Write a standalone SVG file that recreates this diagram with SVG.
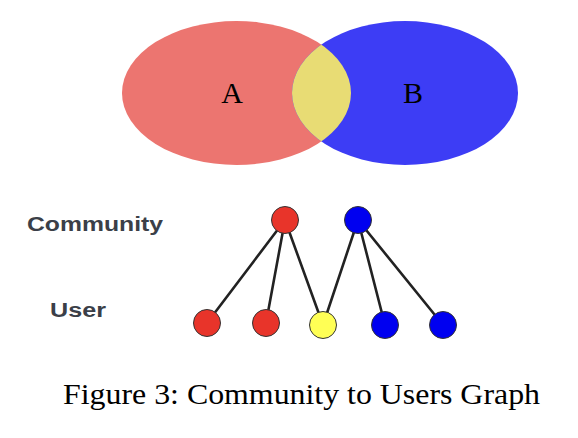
<svg xmlns="http://www.w3.org/2000/svg" width="578" height="438" viewBox="0 0 578 438">
<style>
.serif{font-family:"Liberation Serif","Times New Roman",serif;fill:#000}
.lbl{font-family:"Liberation Sans",Arial,sans-serif;font-weight:bold;font-size:20px;fill:#3b3f48}
.edge{stroke:#222;stroke-width:2.6;stroke-linecap:round}
.node{stroke:#333;stroke-width:1}
</style>
<defs>
<clipPath id="clipA"><ellipse cx="236.5" cy="93" rx="114.5" ry="72"/></clipPath>
</defs>
<rect width="578" height="438" fill="#fff"/>
<g id="venn">
<g id="setA"><ellipse cx="236.5" cy="93" rx="114.5" ry="72" fill="#ec7570"/></g>
<g id="setB"><ellipse cx="405" cy="93" rx="113" ry="72" fill="#3d3df5"/></g>
<g id="intersection"><ellipse cx="405" cy="93" rx="113" ry="72" fill="#e8dc74" clip-path="url(#clipA)"/></g>
<text class="serif" x="232" y="103" font-size="30" text-anchor="middle">A</text>
<text class="serif" x="413" y="103" font-size="30" text-anchor="middle">B</text>
</g>
<g id="row-labels">
<text class="lbl" x="27" y="231" textLength="136" lengthAdjust="spacingAndGlyphs">Community</text>
<text class="lbl" x="50" y="317" textLength="56" lengthAdjust="spacingAndGlyphs">User</text>
</g>
<g id="connectors">
<line class="edge" x1="285" y1="220" x2="207" y2="323"/>
<line class="edge" x1="285" y1="220" x2="266" y2="323"/>
<line class="edge" x1="285" y1="220" x2="323" y2="325"/>
<line class="edge" x1="358" y1="220" x2="323" y2="325"/>
<line class="edge" x1="358" y1="220" x2="385" y2="325"/>
<line class="edge" x1="358" y1="220" x2="443" y2="325"/>
</g>
<g id="community-red"><circle class="node" cx="285" cy="220" r="13.5" fill="#e8342a"/></g>
<g id="community-blue"><circle class="node" cx="358" cy="220" r="13.5" fill="#0000f0"/></g>
<g id="user-1"><circle class="node" cx="207" cy="323" r="13.5" fill="#e8342a"/></g>
<g id="user-2"><circle class="node" cx="266" cy="323" r="13.5" fill="#e8342a"/></g>
<g id="user-3"><circle class="node" cx="323" cy="325" r="13.5" fill="#ffff55"/></g>
<g id="user-4"><circle class="node" cx="385" cy="325" r="13.5" fill="#0000f0"/></g>
<g id="user-5"><circle class="node" cx="443" cy="325" r="13.5" fill="#0000f0"/></g>
<text class="serif" x="63" y="404" font-size="30" textLength="477" lengthAdjust="spacingAndGlyphs">Figure 3: Community to Users Graph</text>
</svg>
